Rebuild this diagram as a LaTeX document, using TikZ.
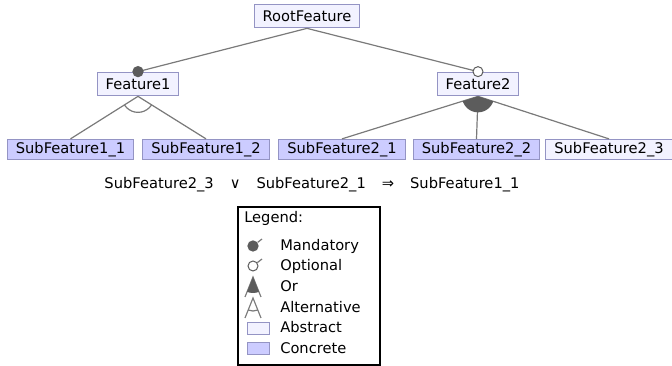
\documentclass[tikz,border=0pt]{standalone}
\usepackage{fontspec}
\setmainfont{DejaVu Sans}
\definecolor{abstractfill}{HTML}{F2F2FF}
\definecolor{concretefill}{HTML}{CCCCFF}
\definecolor{featureline}{HTML}{9494C4}
\definecolor{edgegray}{HTML}{7A7A7A}
\definecolor{dotgray}{HTML}{5C5C5C}
\tikzset{
    feature/.style={draw=featureline, line width=0.75pt, inner xsep=6.3pt, inner ysep=0pt, minimum height=17.8pt, font=\fontsize{11}{13}\selectfont},
    subfeature/.style={feature, minimum height=15.2pt},
    abstract/.style={fill=abstractfill},
    concrete/.style={fill=concretefill},
    edge/.style={draw=edgegray, line width=0.9pt},
    mandatory/.style={circle, fill=dotgray, inner sep=0pt, minimum size=8.5pt},
    optional/.style={circle, draw=dotgray, fill=white, line width=0.75pt, inner sep=0pt, minimum size=7.5pt},
    legendtext/.style={anchor=west, inner sep=0pt, font=\fontsize{11}{13}\selectfont}
}

\begin{document}
\begin{tikzpicture}[x=0.75pt, y=-0.75pt]
            \useasboundingbox (0,0) rectangle (672,366);

            %nodes
            \node[feature, abstract] (root) at (307,16) {RootFeature};
            \node[feature, abstract] (f1) at (138,84) {Feature1};
            \node[feature, abstract] (f2) at (478,84) {Feature2};
            \node[subfeature, concrete] (s11) at (70.5,149.5) {SubFeature1\_1};
            \node[subfeature, concrete] (s12) at (206,149.5) {SubFeature1\_2};
            \node[subfeature, concrete] (s21) at (342,149.5) {SubFeature2\_1};
            \node[subfeature, concrete] (s22) at (476.5,149.5) {SubFeature2\_2};
            \node[subfeature, abstract] (s23) at (609,149.5) {SubFeature2\_3};

            %edges
            \draw[edge] (root.south) -- (f1.north);
            \draw[edge] (root.south) -- (f2.north);
            \draw[edge] (f1.south) -- (s11.north);
            \draw[edge] (f1.south) -- (s12.north);
            \draw[edge] (f2.south) -- (s21.north);
            \draw[edge] (f2.south) -- (s22.north);
            \draw[edge] (f2.south) -- (s23.north);
            \node[mandatory] (m1) at (f1.north) {};
            \node[optional] (o2) at (f2.north) {};

            %groups
            \begin{scope}
                \clip (f1.south) -- (s11.north) -- (s12.north) -- cycle;
                \draw[edge] (f1.south) circle[radius=16];
            \end{scope}
            \begin{scope}
                \clip (f2.south) -- (s21.north) -- (s23.north) -- cycle;
                \fill[dotgray] (f2.south) circle[radius=16];
            \end{scope}

            %constraint
            \node[font=\fontsize{11}{13}\selectfont] (rule) at (312,185) {SubFeature2\_3\hspace{12pt}∨\hspace{12pt}SubFeature2\_1\hspace{12pt}⇒\hspace{12pt}SubFeature1\_1};

            %legend
            \node[draw=black, line width=1pt, minimum width=106.5pt, minimum height=118.5pt, inner sep=0pt] (legend) at (309,286) {};
            \node[legendtext] (lgtitle) at (244,218) {Legend:};
            \node[mandatory] (lgmand) at (253,246) {};
            \coordinate (lgmandend) at (262,239);
            \draw[edge] (lgmand) -- (lgmandend);
            \node[optional] (lgopt) at (253,266) {};
            \coordinate (lgoptend) at (262,259);
            \draw[edge] (lgopt) -- (lgoptend);
            \coordinate (lgortop) at (253,277);
            \coordinate (lgorleft) at (245,297);
            \coordinate (lgorright) at (261,297);
            \draw[edge] (lgorleft) -- (lgortop) -- (lgorright);
            \begin{scope}
                \clip (lgortop) -- (lgorleft) -- (lgorright) -- cycle;
                \fill[dotgray] (lgortop) circle[radius=16];
            \end{scope}
            \coordinate (lgalttop) at (253,298);
            \coordinate (lgaltleft) at (245,318);
            \coordinate (lgaltright) at (261,318);
            \draw[edge] (lgaltleft) -- (lgalttop) -- (lgaltright);
            \begin{scope}
                \clip (lgalttop) -- (lgaltleft) -- (lgaltright) -- cycle;
                \draw[edge] (lgalttop) circle[radius=13];
            \end{scope}
            \node[draw=featureline, fill=abstractfill, line width=0.75pt, minimum width=16.5pt, minimum height=8.5pt, inner sep=0pt] (lgabs) at (258,328.5) {};
            \node[draw=featureline, fill=concretefill, line width=0.75pt, minimum width=16.5pt, minimum height=8.5pt, inner sep=0pt] (lgcon) at (258,348.5) {};
            \node[legendtext] (lgmandtext) at (280,246) {Mandatory};
            \node[legendtext] (lgopttext) at (280,266) {Optional};
            \node[legendtext] (lgortext) at (280,286) {Or};
            \node[legendtext] (lgalttext) at (280,307) {Alternative};
            \node[legendtext] (lgabstext) at (280,327) {Abstract};
            \node[legendtext] (lgcontext) at (280,348) {Concrete};
        \end{tikzpicture}
\end{document}
